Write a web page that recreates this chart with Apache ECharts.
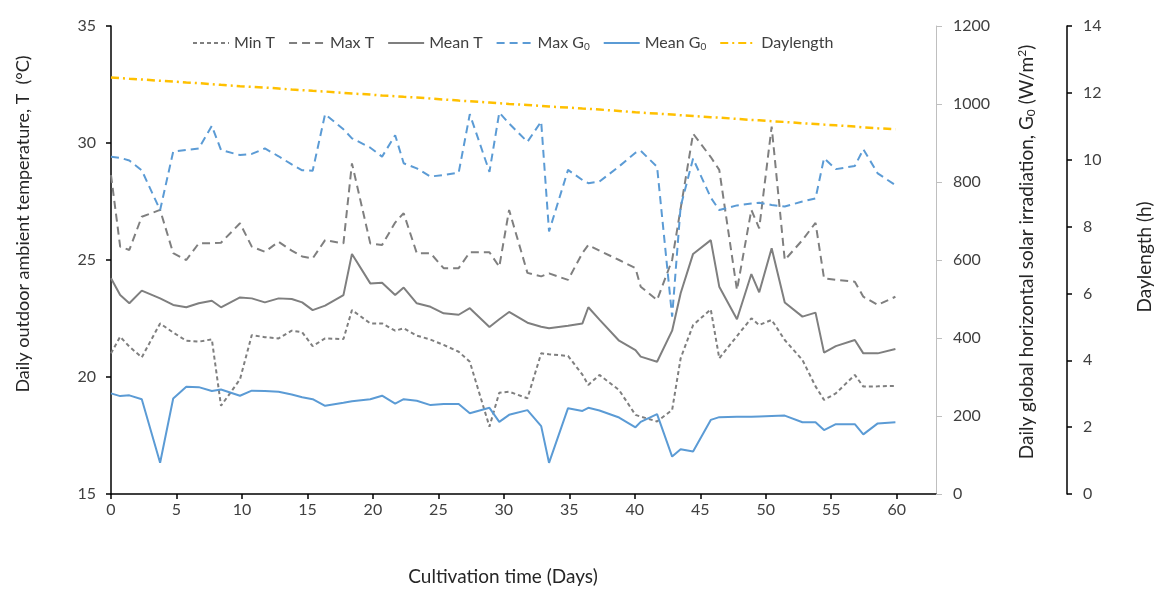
<!DOCTYPE html>
<html>
<head>
<meta charset="utf-8">
<script src="https://cdn.jsdelivr.net/npm/echarts@6/dist/echarts.min.js"></script>
<style>
  html, body { margin: 0; padding: 0; background: #fff; }
  #chart { width: 1154px; height: 590px; }
</style>
</head>
<body>
<div id="chart"></div>
<script>
// cultivation time (days) of each daily record
const days = [
  0, 0.7, 1.4, 2.35, 3.75, 4.75, 5.75, 6.7, 7.7, 8.4,
  9.85, 10.75, 11.75, 12.8, 13.8, 14.6, 15.4, 16.35, 17.75, 18.4,
  19.8, 20.7, 21.7, 22.35, 23.35, 24.4, 25.4, 26.55, 27.4, 28.9,
  29.65, 30.4, 31.8, 32.85, 33.45, 34.9, 36.0, 36.45, 37.3, 38.8,
  40.05, 40.45, 41.7, 42.85, 43.5, 44.45, 45.8, 46.45, 47.8, 48.9,
  49.5, 50.45, 51.45, 52.8, 53.8, 54.45, 55.35, 56.8, 57.45, 58.55,
  59.9
]

// temperatures (°C)
const minT = [
  21.01, 21.72, 21.3, 20.84, 22.29, 21.9, 21.55, 21.51, 21.61, 18.77,
  19.9, 21.79, 21.7, 21.65, 21.98, 21.91, 21.32, 21.65, 21.62, 22.86,
  22.29, 22.29, 21.98, 22.08, 21.77, 21.6, 21.37, 21.08, 20.65, 17.88,
  19.33, 19.37, 19.09, 21.01, 20.97, 20.9, 20.1, 19.66, 20.09, 19.44,
  18.38, 18.31, 18.1, 18.59, 20.8, 22.22, 22.89, 20.8, 21.75, 22.51,
  22.22, 22.44, 21.58, 20.73, 19.6, 19.02, 19.3, 20.09, 19.59, 19.6,
  19.62
]
const maxT = [
  28.63, 25.57, 25.43, 26.85, 27.14, 25.29, 25.0, 25.71, 25.72, 25.74,
  26.57, 25.57, 25.35, 25.78, 25.4, 25.15, 25.07, 25.85, 25.71, 29.13,
  25.71, 25.64, 26.6, 27.0, 25.29, 25.29, 24.65, 24.65, 25.33, 25.33,
  24.71, 27.14, 24.45, 24.3, 24.43, 24.15, 25.3, 25.64, 25.4, 25.0,
  24.65, 23.86, 23.29, 25.0, 27.2, 30.4, 29.4, 28.85, 23.72, 27.14,
  26.35, 30.7, 25.0, 25.85, 26.59, 24.22, 24.15, 24.07, 23.43, 23.08,
  23.43
]
const meanT = [
  24.22, 23.5, 23.15, 23.69, 23.36, 23.08, 22.98, 23.15, 23.26, 22.98,
  23.4, 23.36, 23.19, 23.36, 23.33, 23.19, 22.86, 23.05, 23.5, 25.26,
  24.0, 24.03, 23.5, 23.82, 23.15, 23.0, 22.72, 22.66, 22.94, 22.14,
  22.47, 22.78, 22.32, 22.15, 22.08, 22.19, 22.29, 22.98, 22.45, 21.55,
  21.15, 20.87, 20.65, 21.98, 23.58, 25.26, 25.85, 23.86, 22.47, 24.4,
  23.62, 25.5, 23.18, 22.58, 22.75, 21.04, 21.32, 21.58, 21.01, 21.01,
  21.2
]

// solar irradiation (W/m²)
const maxG0 = [
  865, 862, 855, 830, 728, 878, 882, 886, 944, 882,
  869, 872, 886, 866, 845, 830, 829, 974, 935, 912,
  888, 865, 920, 848, 835, 814, 818, 824, 974, 826,
  978, 950, 903, 955, 673, 831, 805, 797, 801, 840,
  875, 880, 839, 455, 737, 860, 760, 728, 740, 745,
  747, 741, 737, 750, 758, 861, 833, 841, 884, 822,
  792
]
const meanG0 = [
  258, 251, 253, 243, 80, 245, 275, 274, 264, 268,
  252, 265, 264, 262, 255, 248, 243, 226, 234, 238,
  243, 252, 232, 243, 239, 228, 231, 231, 207, 221,
  185, 203, 215, 174, 80, 220, 213, 221, 214, 196,
  171, 185, 205, 96, 115, 109, 190, 197, 198, 198,
  199, 200, 201, 184, 184, 164, 179, 179, 153, 181,
  184
]

// daylength (h)
const daylength = [
  12.46, 12.44, 12.42, 12.40, 12.36, 12.34, 12.31, 12.29, 12.26, 12.24,
  12.20, 12.18, 12.16, 12.13, 12.10, 12.08, 12.06, 12.04, 12.00, 11.98,
  11.95, 11.92, 11.90, 11.88, 11.86, 11.83, 11.80, 11.77, 11.75, 11.71,
  11.69, 11.67, 11.64, 11.61, 11.59, 11.56, 11.53, 11.52, 11.50, 11.46,
  11.42, 11.41, 11.38, 11.35, 11.33, 11.31, 11.27, 11.26, 11.22, 11.19,
  11.18, 11.15, 11.13, 11.09, 11.07, 11.05, 11.03, 10.99, 10.97, 10.94,
  10.91
]

const xTicks = [0, 5, 10, 15, 20, 25, 30, 35, 40, 45, 50, 55, 60]

const FONT = 'Lato'
const labelColor = '#404040'
const grey = '#7f7f7f'
const blue = '#5b9bd5'
const gold = '#ffc000'

const pairs = (values) => values.map((v, i) => [days[i], v])
const plain = (v) => String(v)

const line = (name, values, color, type, yAxisIndex, width = 2) => ({
  name,
  type: 'line',
  yAxisIndex,
  data: pairs(values),
  symbol: 'none',
  smooth: false,
  lineStyle: { color, width, type },
  itemStyle: { color },
})

const chart = echarts.init(document.getElementById('chart'))

chart.setOption({
  animation: false,
  textStyle: { fontFamily: FONT },
  legend: {
    left: 187,
    top: 30,
    itemWidth: 36,
    itemHeight: 10,
    itemGap: 13,
    itemStyle: { opacity: 0 },
    data: ['Min T', 'Max T', 'Mean T', 'Max G0', 'Mean G0', 'Daylength'],
    formatter: (name) => name.replace('G0', 'G{sub|0}'),
    textStyle: {
      fontFamily: FONT,
      fontSize: 16,
      color: labelColor,
      rich: {
        sub: { fontFamily: FONT, fontSize: 10, color: labelColor, verticalAlign: 'bottom', padding: [8, 0, 0, 0] },
      },
    },
  },
  grid: { left: 111, right: 218, top: 26, bottom: 96 },
  xAxis: {
    type: 'value',
    min: 0,
    max: 63,
    interval: 5,
    splitLine: { show: false },
    axisLine: { onZero: false, lineStyle: { color: '#000', width: 1.5 } },
    axisTick: { customValues: xTicks, length: 5, lineStyle: { color: '#000', width: 1.5 } },
    axisLabel: { customValues: xTicks, margin: 8, fontSize: 16, color: labelColor, fontFamily: FONT },
  },
  yAxis: [
    {
      type: 'value',
      position: 'left',
      min: 15,
      max: 35,
      interval: 5,
      splitLine: { show: false },
      axisLine: { show: true, onZero: false, lineStyle: { color: '#000', width: 1.5 } },
      axisTick: { show: true, length: 5, lineStyle: { color: '#000', width: 1.5 } },
      axisLabel: { margin: 15, fontSize: 16, color: labelColor, fontFamily: FONT, formatter: plain },
    },
    {
      type: 'value',
      position: 'right',
      min: 0,
      max: 1200,
      interval: 200,
      splitLine: { show: false },
      axisLine: { show: true, onZero: false, lineStyle: { color: '#bfbfbf', width: 1 } },
      axisTick: { show: true, length: 6, lineStyle: { color: '#bfbfbf', width: 1 } },
      axisLabel: { margin: 17, fontSize: 16, color: labelColor, fontFamily: FONT, formatter: plain },
    },
    {
      type: 'value',
      position: 'right',
      offset: 131,
      min: 0,
      max: 14,
      interval: 2,
      splitLine: { show: false },
      axisLine: { show: true, onZero: false, lineStyle: { color: '#000', width: 1.5 } },
      axisTick: { show: true, length: 5, lineStyle: { color: '#000', width: 1.5 } },
      axisLabel: { margin: 16, fontSize: 16, color: labelColor, fontFamily: FONT, formatter: plain },
    },
  ],
  graphic: [
    {
      type: 'text',
      x: 23,
      y: 224,
      rotation: Math.PI / 2,
      style: {
        text: 'Daily outdoor ambient temperature, T  (°C)',
        font: '18px Lato',
        fill: '#262626',
        align: 'center',
        verticalAlign: 'middle',
      },
    },
    {
      type: 'text',
      x: 1027,
      y: 252,
      rotation: Math.PI / 2,
      style: {
        text: 'Daily global horizontal solar irradiation, G{sub|0} (W/m{sup|2})',
        font: '19px Lato',
        fill: '#262626',
        align: 'center',
        verticalAlign: 'middle',
        rich: {
          sub: { fontFamily: FONT, fontSize: 12, fill: '#262626', verticalAlign: 'bottom', padding: [9, 0, 0, 0] },
          sup: { fontFamily: FONT, fontSize: 12, fill: '#262626', verticalAlign: 'top', padding: [0, 0, 9, 0] },
        },
      },
    },
    {
      type: 'text',
      x: 1145,
      y: 257,
      rotation: Math.PI / 2,
      style: {
        text: 'Daylength (h)',
        font: '19px Lato',
        fill: '#262626',
        align: 'center',
        verticalAlign: 'middle',
      },
    },
    {
      type: 'text',
      x: 503,
      y: 577,
      style: {
        text: 'Cultivation time (Days)',
        font: '19px Lato',
        fill: '#262626',
        align: 'center',
        verticalAlign: 'middle',
      },
    },
  ],
  series: [
    line('Min T', minT, grey, [4, 3], 0),
    line('Max T', maxT, grey, [8, 5], 0),
    line('Mean T', meanT, grey, 'solid', 0),
    line('Max G0', maxG0, blue, [8, 5], 1),
    line('Mean G0', meanG0, blue, 'solid', 1),
    line('Daylength', daylength, gold, [8, 4, 2, 4], 2, 2.5),
  ],
})
</script>
</body>
</html>
